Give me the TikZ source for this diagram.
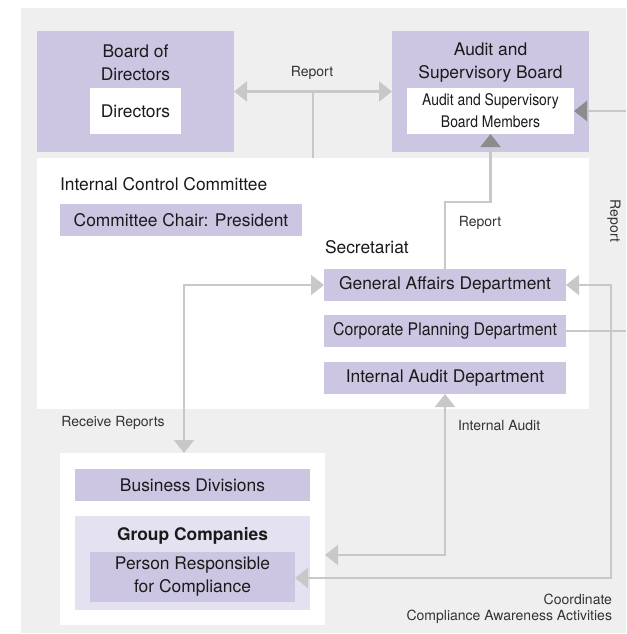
\documentclass[tikz,border=0pt]{standalone}
\usepackage{fontspec}
\setmainfont{TeX Gyre Heros}
\newfontfamily\condA[FakeStretch=0.91]{TeX Gyre Heros}
\newfontfamily\condB[FakeStretch=0.87]{TeX Gyre Heros}
\usetikzlibrary{arrows.meta}
\definecolor{bggray}{HTML}{EFEFEF}
\definecolor{lav}{HTML}{CCC6E2}
\definecolor{lavlight}{HTML}{E4E1F0}
\definecolor{linegray}{HTML}{C8C8C8}
\definecolor{headdark}{HTML}{8C8C8C}
\definecolor{txt}{HTML}{1A1A1A}
\definecolor{lbl}{HTML}{333333}
\newcommand{\mainsz}{\fontsize{17.4}{23}\selectfont}
\newcommand{\lblsz}{\fontsize{14}{18}\selectfont}
\begin{document}
\begin{tikzpicture}[x=1pt,y=-1pt,
  plain/.style={inner sep=0pt,outer sep=0pt,draw=none},
  lavbox/.style={plain,fill=lav,text=txt,font=\mainsz,align=center},
  whitebox/.style={plain,fill=white,text=txt,font=\mainsz,align=center},
  ttl/.style={plain,text=txt,font=\mainsz,align=center},
  lbltext/.style={plain,text=lbl,font=\lblsz,align=center},
  conn/.style={draw=linegray,line width=2.2pt},
  lhead/.style={conn,-{Triangle[width=20pt,length=13pt,color=linegray]}},
  lboth/.style={conn,{Triangle[width=20pt,length=13pt,color=linegray]}-{Triangle[width=20pt,length=13pt,color=linegray]}},
  dhead/.style={conn,-{Triangle[width=20pt,length=13pt,color=headdark]}}
]
\useasboundingbox (0,0) rectangle (626,634);
\fill[bggray] (21,8) rectangle (626,633);

% Board of Directors
\node[lavbox,minimum width=197pt,minimum height=121pt] (bod) at (135.5,91.5) {};
\node[ttl] (bodt) at (135.5,63) {Board of\\Directors};
\node[whitebox,minimum width=91pt,minimum height=46pt] (dir) at (135.5,111) {Directors};

% Audit and Supervisory Board
\node[lavbox,minimum width=197pt,minimum height=121pt] (asb) at (490.5,91.5) {};
\node[ttl] (asbt) at (490.5,62.5) {Audit and\\Supervisory Board};
\node[whitebox,minimum width=167pt,minimum height=46pt,font={\condB\fontsize{16}{22}\selectfont}] (asbm) at (490.5,111) {Audit and Supervisory\\Board Members};

% Internal Control Committee
\node[plain,fill=white,minimum width=552pt,minimum height=251pt] (icc) at (313,283.5) {};
\node[ttl,anchor=west] (icct) at (60,184) {Internal Control Committee};
\node[lavbox,minimum width=242pt,minimum height=32pt] (chair) at (181,220) {Committee Chair: President};
\node[ttl,anchor=west] (sec) at (325,247) {Secretariat};
\node[lavbox,minimum width=242pt,minimum height=32pt] (ga) at (445,285) {General Affairs Department};
\node[lavbox,minimum width=242pt,minimum height=32pt,font={\condA\mainsz}] (cp) at (445,331) {Corporate Planning Department};
\node[lavbox,minimum width=242pt,minimum height=32pt] (ia) at (445,378) {Internal Audit Department};

% Lower group
\node[plain,fill=white,minimum width=265pt,minimum height=172pt] (grp) at (192.5,539) {};
\node[lavbox,minimum width=235pt,minimum height=32pt] (bd) at (192.5,485) {Business Divisions};
\node[plain,fill=lavlight,minimum width=235pt,minimum height=94pt] (gc) at (192.5,563) {};
\node[ttl,font={\mainsz\bfseries}] (gct) at (192.5,536) {Group Companies};
\node[lavbox,minimum width=205pt,minimum height=50pt] (pr) at (192.5,577) {Person Responsible\\for Compliance};

% Connectors
\draw[lboth] (bod.east) -- (asb.west);
\coordinate (rj) at (313,92);
\draw[conn] (icc.north -| rj) -- (rj);
\node[lbltext] (rep1) at (312,73) {Report};

\draw[dhead] (ga.north) -- ++(0,-67) -| (asbm.south);
\node[lbltext] (rep2) at (480,223) {Report};

\coordinate (rr) at (184,286);
\draw[lboth] (grp.north -| rr) |- (ga.west);
\node[lbltext] (recv) at (113,423) {Receive Reports};

\coordinate (iaj) at (445,555);
\draw[lboth] (ia.south) -- (iaj) -- (grp.east |- iaj);
\node[lbltext,anchor=west] (iat) at (458,425) {Internal Audit};

\coordinate (cj) at (611,578);
\draw[lboth] (ga.east) -| (cj) -- (pr.east |- cj);
\node[lbltext,anchor=east] (coord1) at (612,599) {Coordinate};
\node[lbltext,anchor=east] (coord2) at (612,617) {Compliance Awareness Activities};

\coordinate (cpr) at (626,331);
\draw[conn] (cp.east) -- (cpr);

\coordinate (ar) at (626,111);
\draw[dhead] (ar) -- (asbm.east);
\node[lbltext,rotate=-90] (rep3) at (614,221) {Report};
\end{tikzpicture}
\end{document}
